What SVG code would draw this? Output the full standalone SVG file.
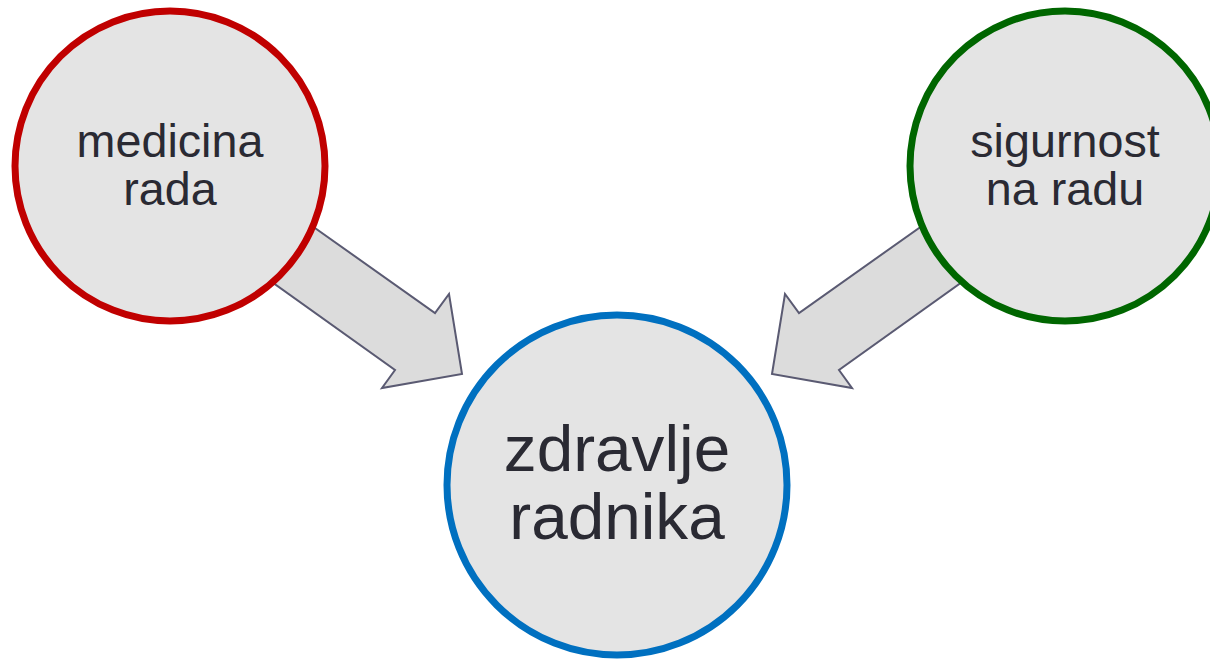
<svg xmlns="http://www.w3.org/2000/svg" width="1210" height="660" viewBox="0 0 1210 660">
  <style>
    .arrow { fill: #DCDCDC; stroke: #5A5A72; stroke-width: 2; stroke-linejoin: miter; }
    .node { fill: #E4E4E4; stroke-width: 7; }
    .lbl { font-family: "Liberation Sans", Arial, sans-serif; fill: #2A2A33; text-anchor: middle; }
    .small { font-size: 46.7px; }
    .big { font-size: 65.7px; }
  </style>
  <rect width="1210" height="660" fill="#FFFFFF"/>
  <g id="connectors">
    <polygon class="arrow" points="233,170 435,313 449,294 462,374 382,388 395,370 195,227"/>
    <polygon class="arrow" points="1001,170 799,313 785,294 772,374 852,388 839,370 1039,227"/>
  </g>
  <g id="node-medicina-rada">
    <circle class="node" cx="170" cy="166" r="155" stroke="#C00000"/>
    <text class="lbl small" x="170" y="157">medicina</text>
    <text class="lbl small" x="170" y="205">rada</text>
  </g>
  <g id="node-sigurnost-na-radu">
    <circle class="node" cx="1065" cy="166" r="155" stroke="#006600"/>
    <text class="lbl small" x="1065" y="157">sigurnost</text>
    <text class="lbl small" x="1065" y="205">na radu</text>
  </g>
  <g id="node-zdravlje-radnika">
    <circle class="node" cx="617" cy="485" r="170" stroke="#0070C0"/>
    <text class="lbl big" x="617" y="471">zdravlje</text>
    <text class="lbl big" x="617" y="539">radnika</text>
  </g>
</svg>
